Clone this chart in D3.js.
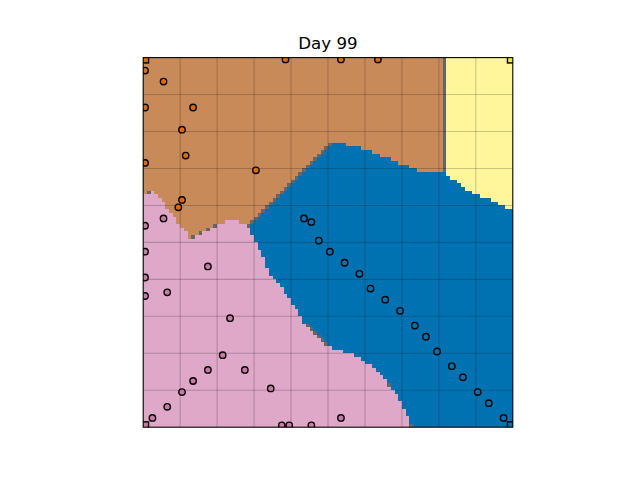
<!DOCTYPE html>
<html>
<head>
<meta charset="utf-8">
<script src="https://cdn.jsdelivr.net/npm/d3@7"></script>
<style>
  html, body { margin: 0; padding: 0; background: #ffffff; }
  svg { display: block; }
</style>
</head>
<body>
<div id="chart"></div>
<script>
// ---------------- data ----------------
const title = "Day 99";
const gridSize = 100;
const teams = ["brown", "yellow", "blue", "pink"];

// agents (column, row) per team
const brownCols = [0, 5, 0, 13, 10, 11, 0, 30, 10, 9, 38, 53, 63];
const brownRows = [3, 6, 13, 13, 19, 26, 28, 30, 38, 40, 0, 0, 0];

const yellowCols = [];
const yellowRows = [];

const blueCols = [43, 45, 47, 50, 54, 58, 61, 65, 69, 73, 76, 79, 83, 86, 90, 93, 97];
const blueRows = [43, 44, 49, 52, 55, 58, 62, 65, 68, 72, 75, 79, 83, 86, 90, 93, 97];

const pinkCols = [5, 0, 0, 17, 0, 6, 0, 23, 21, 17, 27, 13, 10, 34, 6, 2, 37, 39, 45, 53];
const pinkRows = [43, 45, 52, 56, 59, 63, 64, 70, 80, 84, 84, 87, 90, 89, 94, 97, 99, 99, 99, 97];

// bases (one per team)
const baseTeams = ["brown", "yellow", "blue", "pink"];
const baseCols = [0, 99, 99, 0];
const baseRows = [0, 0, 99, 99];

// grid lines every 10 cells
const gridEvery = [10, 20, 30, 40, 50, 60, 70, 80, 90];

// ---------------- styles ----------------
const cellColor = { brown: "#c98a5a", yellow: "#fff59b", blue: "#0072b2", pink: "#dfa7c8", tie: "#666666" };
const agentColor = { brown: "#e06b00", yellow: "#f0e442", blue: "#0072b2", pink: "#cc79a7" };

const W = 640, H = 480;
const plotLeft = 143.2, plotTop = 57.6, plotSide = 369.6;

// ---------------- build ----------------
const agents = [];
function addTeam(team, cols, rows) {
  cols.forEach((c, i) => agents.push({ team, c, r: rows[i], base: false }));
}
addTeam("brown", brownCols, brownRows);
addTeam("yellow", yellowCols, yellowRows);
addTeam("blue", blueCols, blueRows);
addTeam("pink", pinkCols, pinkRows);
baseTeams.forEach((t, i) => agents.push({ team: t, c: baseCols[i], r: baseRows[i], base: true }));

// territory: nearest agent; equal distance between teams -> tie
const territory = [];
for (let r = 0; r < gridSize; r++) {
  const row = [];
  for (let c = 0; c < gridSize; c++) {
    let best = Infinity, owners = new Set();
    for (const a of agents) {
      const d = (a.c - c) * (a.c - c) + (a.r - r) * (a.r - r);
      if (d < best) { best = d; owners = new Set([a.team]); }
      else if (d === best) owners.add(a.team);
    }
    row.push(owners.size > 1 ? "tie" : [...owners][0]);
  }
  territory.push(row);
}

// runs per row
const runs = [];
territory.forEach((row, r) => {
  let start = 0;
  for (let c = 1; c <= gridSize; c++) {
    if (c === gridSize || row[c] !== row[start]) {
      runs.push({ r, c0: start, c1: c - 1, v: row[start] });
      start = c;
    }
  }
});

const x = d3.scaleLinear().domain([-0.5, gridSize - 0.5]).range([plotLeft, plotLeft + plotSide]);
const y = d3.scaleLinear().domain([-0.5, gridSize - 0.5]).range([plotTop, plotTop + plotSide]);

const svg = d3.select("#chart").append("svg").attr("width", W).attr("height", H)
  .style("font-family", "'DejaVu Sans', sans-serif");

svg.append("defs").append("clipPath").attr("id", "plotClip")
  .append("rect").attr("x", plotLeft).attr("y", plotTop).attr("width", plotSide).attr("height", plotSide);

const plot = svg.append("g").attr("clip-path", "url(#plotClip)");

plot.append("g").attr("shape-rendering", "crispEdges")
  .selectAll("rect").data(runs).join("rect")
  .attr("x", d => x(d.c0 - 0.5))
  .attr("y", d => y(d.r - 0.5))
  .attr("width", d => x(d.c1 + 0.5) - x(d.c0 - 0.5))
  .attr("height", d => y(d.r + 0.5) - y(d.r - 0.5))
  .attr("fill", d => cellColor[d.v]);

// grid
const grid = plot.append("g").attr("stroke", "#000").attr("stroke-opacity", 0.2).attr("stroke-width", 1.1);
grid.selectAll("line.v").data(gridEvery).join("line").attr("class", "v")
  .attr("x1", d => x(d - 0.5)).attr("x2", d => x(d - 0.5))
  .attr("y1", plotTop).attr("y2", plotTop + plotSide);
grid.selectAll("line.h").data(gridEvery).join("line").attr("class", "h")
  .attr("y1", d => y(d - 0.5)).attr("y2", d => y(d - 0.5))
  .attr("x1", plotLeft).attr("x2", plotLeft + plotSide);

// agents
plot.append("g").selectAll("circle").data(agents.filter(a => !a.base)).join("circle")
  .attr("cx", d => x(d.c)).attr("cy", d => y(d.r)).attr("r", 3.2)
  .attr("fill", d => agentColor[d.team]).attr("stroke", "#000").attr("stroke-width", 1.4);

// bases
const bs = 7;
plot.append("g").selectAll("rect").data(agents.filter(a => a.base)).join("rect")
  .attr("x", d => x(d.c) - bs / 2).attr("y", d => y(d.r) - bs / 2)
  .attr("width", bs).attr("height", bs)
  .attr("fill", d => agentColor[d.team]).attr("stroke", "#000").attr("stroke-width", 1.4);

// frame
svg.append("rect").attr("x", plotLeft).attr("y", plotTop).attr("width", plotSide).attr("height", plotSide)
  .attr("fill", "none").attr("stroke", "#000").attr("stroke-width", 1.1);

// title
svg.append("text").attr("x", plotLeft + plotSide / 2).attr("y", 49)
  .attr("text-anchor", "middle").attr("font-size", "16.67px").attr("fill", "#000")
  .text(title);
</script>
</body>
</html>
